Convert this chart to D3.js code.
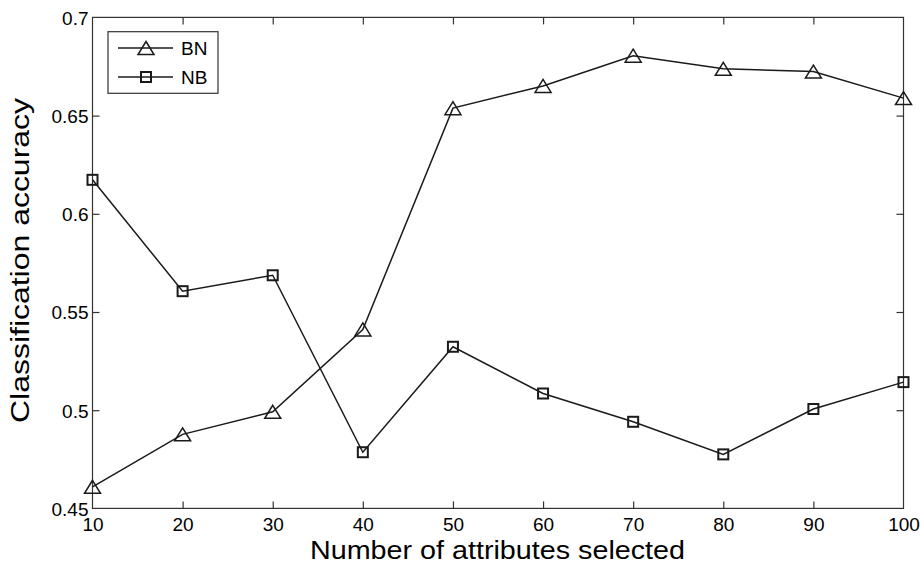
<!DOCTYPE html>
<html><head><meta charset="utf-8">
<script src="https://cdn.jsdelivr.net/npm/d3@7"></script>
<style>body{margin:0;background:#fff}svg{display:block;font-family:"Liberation Sans",Arial,sans-serif}</style>
</head><body><svg id="c" width="924" height="564"></svg>
<script>
const attrs = [10,20,30,40,50,60,70,80,90,100];
const bnValues = [0.461,0.4877,0.4992,0.5411,0.6538,0.6651,0.6805,0.6738,0.6724,0.6589];
const nbValues = [0.6173,0.5606,0.5687,0.4786,0.5323,0.5085,0.4941,0.4775,0.5006,0.5143];
const xTicks = [10,20,30,40,50,60,70,80,90,100];
const yTicks = [0.45,0.5,0.55,0.6,0.65,0.7];
const yTickLabels = ["0.45","0.5","0.55","0.6","0.65","0.7"];
const seriesNames = ["BN","NB"];

const L=92.5,R=903.5,T=17.4,B=508.4;
const svg=d3.select("#c");
const x=d3.scaleLinear().domain([10,100]).range([L,R]);
const y=d3.scaleLinear().domain([0.45,0.7]).range([B,T]);
const col="#1a1a1a";

svg.append("rect").attr("x",L).attr("y",T).attr("width",R-L).attr("height",B-T)
  .attr("fill","none").attr("stroke","#333").attr("stroke-width",1.2);

const tl=7;
const xb=svg.append("g").attr("transform",`translate(0,${B})`)
  .call(d3.axisBottom(x).tickValues(xTicks).tickSize(-tl).tickPadding(9).tickFormat(d3.format("d")));
const xt=svg.append("g").attr("transform",`translate(0,${T})`)
  .call(d3.axisTop(x).tickValues(xTicks).tickSize(-tl).tickFormat(""));
const yl=svg.append("g").attr("transform",`translate(${L},0)`)
  .call(d3.axisLeft(y).tickValues(yTicks).tickSize(-tl).tickPadding(4).tickFormat((d,i)=>yTickLabels[i]));
const yr=svg.append("g").attr("transform",`translate(${R},0)`)
  .call(d3.axisRight(y).tickValues(yTicks).tickSize(-tl).tickFormat(""));
[xb,xt,yl,yr].forEach(g=>{
  g.select(".domain").remove();
  g.selectAll(".tick line").attr("stroke","#333").attr("stroke-width",1.2);
  g.selectAll(".tick text").attr("fill","#000").attr("font-size",19).attr("font-family","Liberation Sans, Arial, sans-serif");
});
xb.selectAll(".tick").filter(d=>d===10||d===100).select("line").remove();
xt.selectAll(".tick").filter(d=>d===10||d===100).select("line").remove();
yl.selectAll(".tick").filter(d=>d===0.45||d===0.7).select("line").remove();
yr.selectAll(".tick").filter(d=>d===0.45||d===0.7).select("line").remove();
xb.selectAll(".tick text").attr("dy","0.71em");
yl.selectAll(".tick text").attr("dy","0.36em");

svg.append("text").attr("x",497.5).attr("y",558.5).attr("text-anchor","middle")
  .attr("font-size",25).attr("fill","#000")
  .attr("textLength",375).attr("lengthAdjust","spacingAndGlyphs")
  .text("Number of attributes selected");
svg.append("text").attr("transform",`translate(29,260.5) rotate(-90)`).attr("text-anchor","middle")
  .attr("font-size",25).attr("fill","#000")
  .attr("textLength",325).attr("lengthAdjust","spacingAndGlyphs")
  .text("Classification accuracy");

const line=d3.line().x((d,i)=>x(attrs[i])).y(d=>y(d));
function tri(g,cx,cy){
  const w=16,h=13;
  g.append("path").attr("d",`M${cx},${cy-h/2}L${cx+w/2},${cy+h/2}L${cx-w/2},${cy+h/2}Z`)
   .attr("fill","none").attr("stroke",col).attr("stroke-width",1.5);
}
function sq(g,cx,cy){
  const s=10;
  g.append("rect").attr("x",cx-s/2).attr("y",cy-s/2).attr("width",s).attr("height",s)
   .attr("fill","none").attr("stroke",col).attr("stroke-width",2);
}
const series=[{name:seriesNames[0],vals:bnValues,m:tri},{name:seriesNames[1],vals:nbValues,m:sq}];
series.forEach(s=>{
  svg.append("path").attr("d",line(s.vals)).attr("fill","none").attr("stroke",col).attr("stroke-width",1.5);
  const g=svg.append("g");
  s.vals.forEach((v,i)=>s.m(g,x(attrs[i]),y(v)));
});

const lg=svg.append("g");
lg.append("rect").attr("x",108).attr("y",31.7).attr("width",110).attr("height",61.6)
  .attr("fill","#fff").attr("stroke","#333").attr("stroke-width",1.2);
series.forEach((s,i)=>{
  const ly=48+i*29;
  lg.append("line").attr("x1",118).attr("x2",173).attr("y1",ly).attr("y2",ly).attr("stroke",col).attr("stroke-width",1.5);
  s.m(lg,146,ly);
  lg.append("text").attr("x",181).attr("y",ly).attr("dy","0.36em").attr("font-size",19).attr("fill","#000").text(s.name);
});
</script></body></html>
